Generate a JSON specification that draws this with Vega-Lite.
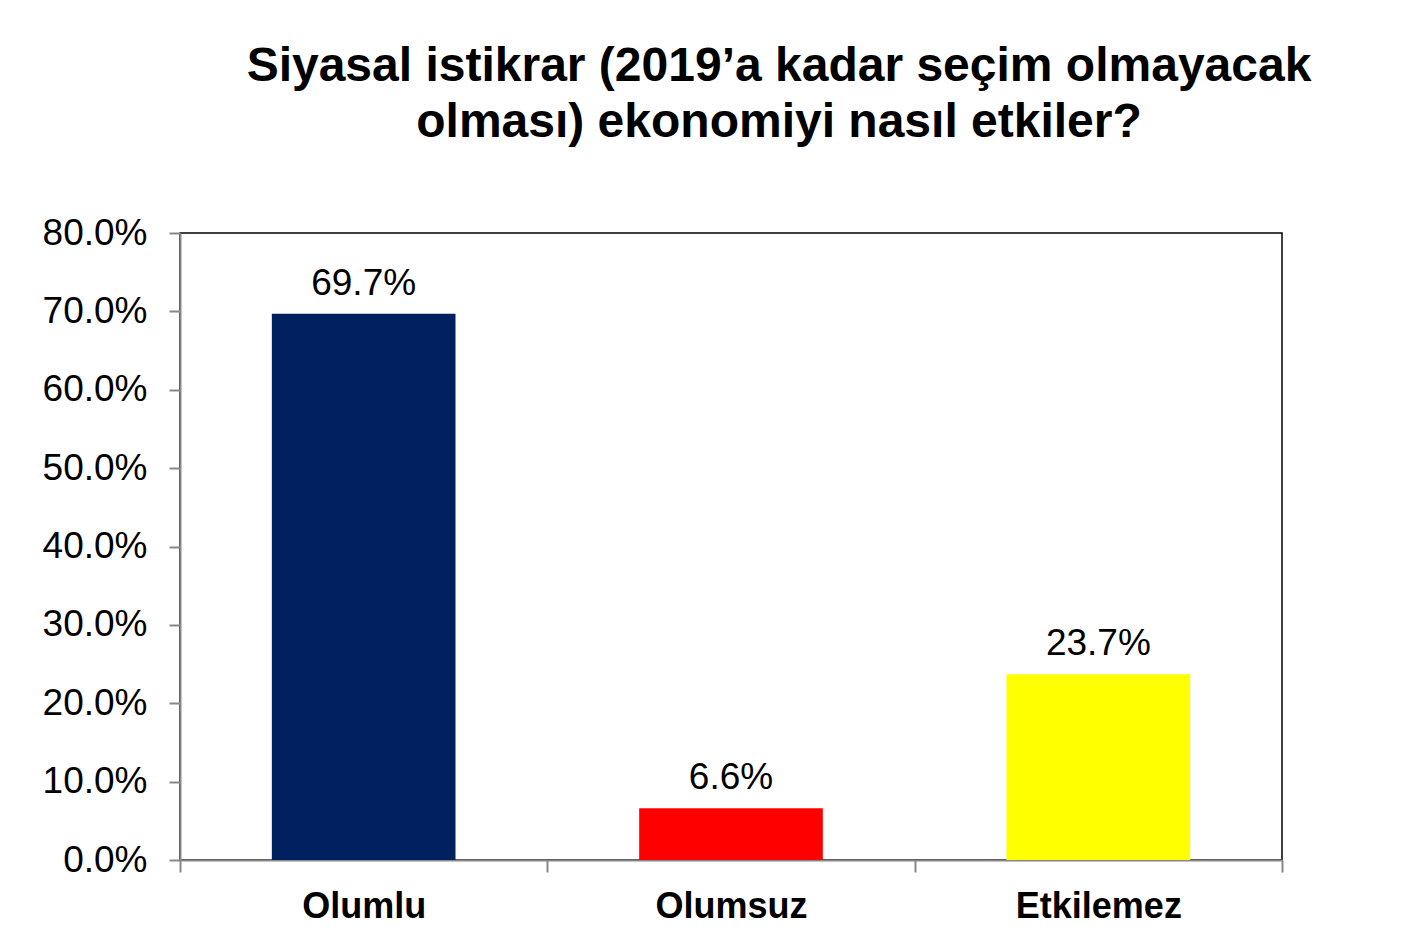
{
  "$schema": "https://vega.github.io/schema/vega-lite/v6.json",
  "width": 1102,
  "height": 627,
  "autosize": {"type": "none"},
  "padding": {"left": 180, "top": 233, "right": 119, "bottom": 82},
  "background": "white",
  "title": {
    "text": ["Siyasal istikrar (2019’a kadar seçim olmayacak", "olması) ekonomiyi nasıl etkiler?"],
    "font": "Liberation Sans",
    "fontSize": 48,
    "fontWeight": "bold",
    "lineHeight": 56,
    "color": "#000000",
    "anchor": "middle",
    "frame": "group",
    "dx": 48,
    "offset": 67
  },
  "data": {
    "values": [
      {"kategori": "Olumlu", "oran": 0.697, "renk": "#002060"},
      {"kategori": "Olumsuz", "oran": 0.066, "renk": "#FF0000"},
      {"kategori": "Etkilemez", "oran": 0.237, "renk": "#FFFF00"}
    ]
  },
  "encoding": {
    "x": {
      "field": "kategori",
      "type": "nominal",
      "sort": null,
      "scale": {"paddingInner": 0, "paddingOuter": 0},
      "axis": {
        "title": null,
        "labelAngle": 0,
        "labelFont": "Liberation Sans",
        "labelFontSize": 36,
        "labelFontWeight": "bold",
        "labelColor": "#000000",
        "labelPadding": 17,
        "tickBand": "extent",
        "tickSize": 12,
        "tickColor": "#888888",
        "tickWidth": 2,
        "domainColor": "#888888",
        "domainWidth": 2
      }
    },
    "y": {
      "field": "oran",
      "type": "quantitative",
      "scale": {"domain": [0, 0.8]},
      "axis": {
        "title": null,
        "format": ".1%",
        "values": [0, 0.1, 0.2, 0.3, 0.4, 0.5, 0.6, 0.7, 0.8],
        "grid": false,
        "labelFont": "Liberation Sans",
        "labelFontSize": 37,
        "labelColor": "#000000",
        "labelPadding": 22,
        "tickSize": 11,
        "tickColor": "#888888",
        "tickWidth": 2,
        "domainColor": "#888888",
        "domainWidth": 2
      }
    }
  },
  "layer": [
    {
      "mark": {"type": "bar", "width": {"band": 0.5}},
      "encoding": {
        "color": {"field": "renk", "type": "nominal", "scale": null, "legend": null}
      }
    },
    {
      "mark": {
        "type": "text",
        "font": "Liberation Sans",
        "fontSize": 37,
        "color": "#000000",
        "baseline": "alphabetic",
        "dy": -19
      },
      "encoding": {
        "text": {"field": "oran", "type": "quantitative", "format": ".1%"}
      }
    }
  ],
  "config": {
    "view": {"stroke": "#000000", "strokeWidth": 1.5}
  }
}
